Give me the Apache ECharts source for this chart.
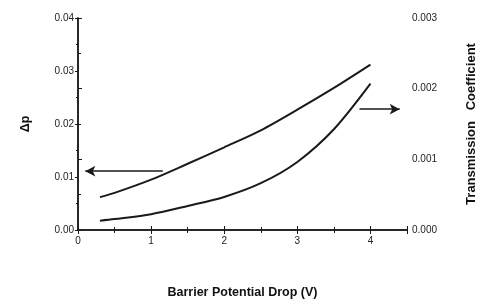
<!DOCTYPE html>
<html><head><meta charset="utf-8">
<script src="https://cdn.jsdelivr.net/npm/echarts@6/dist/echarts.min.js"></script>
<style>html,body{margin:0;padding:0;background:#fff}#c{width:498px;height:304px}</style>
</head><body><div id="c"></div>
<script>
const voltage = [0.3, 0.5, 1.0, 1.5, 2.0, 2.5, 3.0, 3.5, 4.0];
const deltaP = [0.0062, 0.0070, 0.0095, 0.0125, 0.0156, 0.0188, 0.0227, 0.0268, 0.0312];
const transmission = [0.000132, 0.000155, 0.000224, 0.00034, 0.000468, 0.000662, 0.000963, 0.001425, 0.00207];
const xTicks = [0, 1, 2, 3, 4];
const leftArrow = [[1.16, 0.0111], [0.1, 0.0111]];
const rightArrow = [[3.85, 0.00171], [4.4, 0.00171]];

const ink = '#1a1a1a';
const lab = {fontFamily: 'Liberation Sans, Arial', fontSize: 10, color: '#222'};
const ttl = {fontFamily: 'Liberation Sans, Arial', fontWeight: 'bold', fontSize: 12.5, color: '#111'};

const chart = echarts.init(document.getElementById('c'), null, {renderer: 'canvas'});
chart.setOption({
  animation: false,
  backgroundColor: '#fff',
  grid: {left: 78, right: 91, top: 18, bottom: 69, containLabel: false},
  xAxis: [{
    type: 'value', min: 0, max: 4.5, interval: 1,
    name: 'Barrier Potential Drop (V)', nameLocation: 'middle', nameGap: 56,
    nameTextStyle: ttl,
    axisLine: {lineStyle: {color: ink, width: 1.5}},
    axisTick: {inside: true, length: 4, lineStyle: {color: ink}},
    minorTick: {show: true, splitNumber: 2, length: 3, lineStyle: {color: ink}},
    axisLabel: Object.assign({margin: 6, formatter: v => xTicks.includes(v) ? String(v) : ''}, lab),
    splitLine: {show: false}
  }, {
    type: 'value', min: 0, max: 4.5, interval: 1, position: 'top',
    axisLine: {show: true, lineStyle: {color: ink, width: 1.5}},
    axisTick: {inside: true, length: 4, lineStyle: {color: ink}},
    minorTick: {show: true, splitNumber: 2, length: 3, lineStyle: {color: ink}},
    axisLabel: {show: false}, splitLine: {show: false}
  }],
  yAxis: [{
    type: 'value', min: 0, max: 0.04, interval: 0.01,
    name: 'Δp', nameLocation: 'middle', nameGap: 46, nameRotate: 90,
    nameTextStyle: ttl,
    axisLine: {show: true, lineStyle: {color: ink, width: 1.5}},
    axisTick: {show: true, inside: false, length: 3, lineStyle: {color: ink}},
    minorTick: {show: true, splitNumber: 2, length: 2, lineStyle: {color: ink}},
    axisLabel: Object.assign({margin: 4, formatter: v => v.toFixed(2)}, lab),
    splitLine: {show: false}
  }, {
    type: 'value', min: 0, max: 0.003, interval: 0.001, position: 'right',
    name: 'Transmission   Coefficient', nameLocation: 'middle', nameGap: 58, nameRotate: 90,
    nameTextStyle: Object.assign({}, ttl, {fontSize: 13}),
    axisLine: {show: true, lineStyle: {color: ink, width: 1.5}},
    axisTick: {show: true, inside: false, length: 4, lineStyle: {color: ink}},
    minorTick: {show: true, splitNumber: 2, length: 3, lineStyle: {color: ink}},
    axisLabel: Object.assign({margin: 5, formatter: v => v.toFixed(3)}, lab),
    splitLine: {show: false}
  }],
  series: [{
    type: 'line', name: 'Δp', xAxisIndex: 0, yAxisIndex: 0, smooth: 0.3,
    showSymbol: false, lineStyle: {color: ink, width: 2},
    data: voltage.map((v, i) => [v, deltaP[i]]),
    markLine: {
      silent: true, symbol: ['none', 'arrow'], symbolSize: [8, 10],
      label: {show: false},
      lineStyle: {color: ink, width: 1.5, type: 'solid'},
      data: [[{coord: leftArrow[0]}, {coord: leftArrow[1]}]]
    }
  }, {
    type: 'line', name: 'Transmission Coefficient', xAxisIndex: 0, yAxisIndex: 1, smooth: 0.3,
    showSymbol: false, lineStyle: {color: ink, width: 2},
    data: voltage.map((v, i) => [v, transmission[i]]),
    markLine: {
      silent: true, symbol: ['none', 'arrow'], symbolSize: [8, 10],
      label: {show: false},
      lineStyle: {color: ink, width: 1.5, type: 'solid'},
      data: [[{coord: rightArrow[0]}, {coord: rightArrow[1]}]]
    }
  }]
});
</script></body></html>
